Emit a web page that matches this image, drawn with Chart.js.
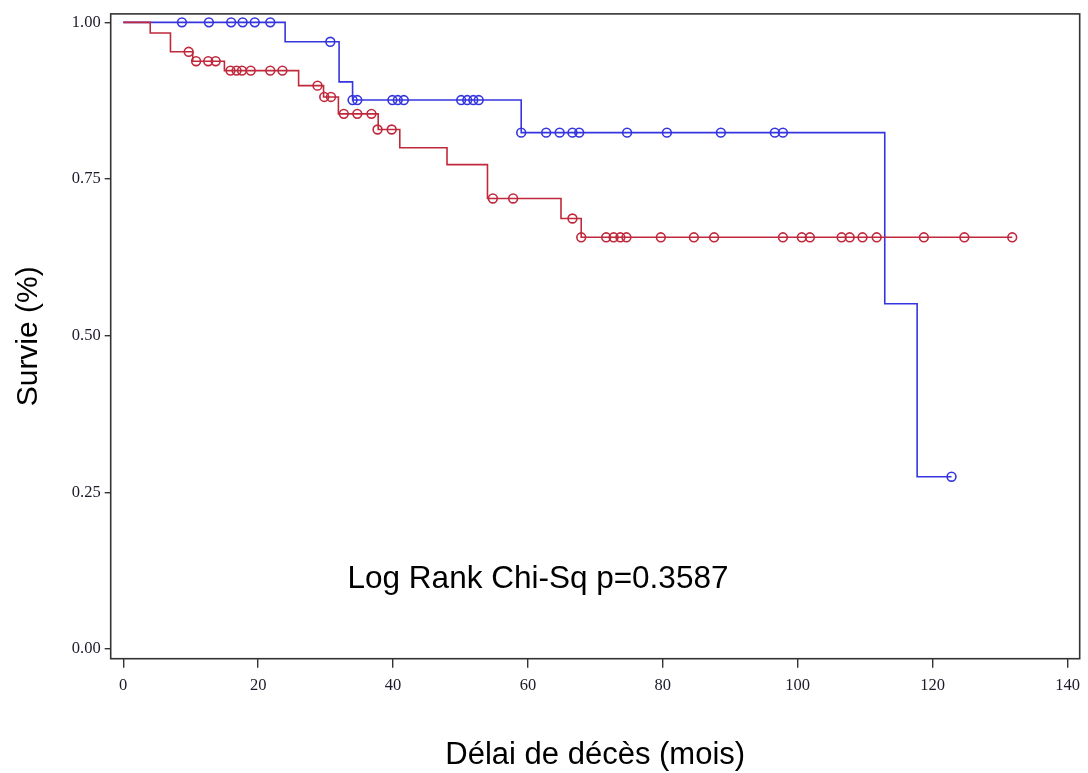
<!DOCTYPE html>
<html>
<head>
<meta charset="utf-8">
<script src="https://cdn.jsdelivr.net/npm/chart.js@4/dist/chart.umd.min.js"></script>
<style>
  html, body { margin: 0; padding: 0; background: #ffffff; }
  #wrap { width: 1088px; height: 773px; }
</style>
</head>
<body>
<div id="wrap"><canvas id="c" width="1088" height="773"></canvas></div>
<script>
// ---- Data (months, survival) ----
// Kaplan-Meier step points (time of change, survival after change); last point = end of follow-up
const redStepTimes = [0, 4, 7, 10.3, 15, 26, 29.7, 31.9, 37.8, 41, 48, 54, 64.9, 67.9, 131.8];
const redStepSurv  = [1, 0.983, 0.953, 0.938, 0.923, 0.899, 0.881, 0.854, 0.829, 0.800, 0.773, 0.719, 0.687, 0.657, 0.657];
const blueStepTimes = [0, 24, 32, 34, 59, 112.9, 117.7, 122.8];
const blueStepSurv  = [1, 0.969, 0.905, 0.876, 0.824, 0.551, 0.275, 0.275];

// Censored observations (markers)
const redCensorTimes = [9.7, 10.8, 12.6, 13.7, 15.9, 16.8, 17.6, 18.9, 21.8, 23.6, 28.8, 29.8, 30.8,
  32.7, 34.7, 36.8, 37.7, 39.8, 54.8, 57.8, 66.6, 67.9, 71.6, 72.7, 73.7, 74.6, 79.7, 84.6, 87.6,
  97.8, 100.6, 101.8, 106.5, 107.7, 109.6, 111.7, 118.7, 124.7, 131.8];
const redCensorSurv = [0.953, 0.938, 0.938, 0.938, 0.923, 0.923, 0.923, 0.923, 0.923, 0.923, 0.899, 0.881, 0.881,
  0.854, 0.854, 0.854, 0.829, 0.829, 0.719, 0.719, 0.687, 0.657, 0.657, 0.657, 0.657, 0.657, 0.657, 0.657, 0.657,
  0.657, 0.657, 0.657, 0.657, 0.657, 0.657, 0.657, 0.657, 0.657, 0.657];
const blueCensorTimes = [8.7, 12.7, 16.0, 17.7, 19.5, 21.8, 30.7, 34.0, 34.7, 39.9, 40.7, 41.6,
  50.1, 51.0, 51.9, 52.7, 59, 62.7, 64.7, 66.6, 67.6, 74.7, 80.6, 88.6, 96.6, 97.8, 122.8];
const blueCensorSurv = [1, 1, 1, 1, 1, 1, 0.969, 0.876, 0.876, 0.876, 0.876, 0.876,
  0.876, 0.876, 0.876, 0.876, 0.824, 0.824, 0.824, 0.824, 0.824, 0.824, 0.824, 0.824, 0.824, 0.824, 0.275];

const xTickValues = [0, 20, 40, 60, 80, 100, 120, 140];
const yTickValues = [0, 0.25, 0.5, 0.75, 1];
const yTickLabels = ['0.00', '0.25', '0.50', '0.75', '1.00'];

const xTitle = 'Délai de décès (mois)';
const yTitle = 'Survie (%)';
const annotationText = 'Log Rank Chi-Sq p=0.3587';

// ---- Build library structures ----
function pts(xs, ys) { return xs.map((x, i) => ({ x: x, y: ys[i] })); }

const RED = '#c0283c';
const BLUE = '#3535e0';

const framePlugin = {
  id: 'frame',
  afterDraw(chart) {
    const { ctx, chartArea: a } = chart;
    ctx.save();
    ctx.strokeStyle = '#333333';
    ctx.lineWidth = 1.6;
    ctx.strokeRect(a.left, a.top, a.right - a.left, a.bottom - a.top);
    ctx.font = '31.5px "Liberation Sans", Arial, sans-serif';
    ctx.fillStyle = '#000000';
    ctx.textAlign = 'center';
    ctx.textBaseline = 'alphabetic';
    ctx.fillText(annotationText, 538, 588);
    ctx.restore();
  }
};

new Chart(document.getElementById('c'), {
  type: 'scatter',
  data: {
    datasets: [
      { data: pts(redStepTimes, redStepSurv), showLine: true, stepped: 'before', borderColor: RED,
        borderWidth: 1.6, pointRadius: 0, fill: false },
      { data: pts(blueStepTimes, blueStepSurv), showLine: true, stepped: 'before', borderColor: BLUE,
        borderWidth: 1.6, pointRadius: 0, fill: false },
      { data: pts(redCensorTimes, redCensorSurv), showLine: false, pointStyle: 'circle', pointRadius: 4.4,
        pointBorderWidth: 1.6, pointBorderColor: RED, pointBackgroundColor: 'rgba(0,0,0,0)', clip: false },
      { data: pts(blueCensorTimes, blueCensorSurv), showLine: false, pointStyle: 'circle', pointRadius: 4.4,
        pointBorderWidth: 1.6, pointBorderColor: BLUE, pointBackgroundColor: 'rgba(0,0,0,0)', clip: false }
    ]
  },
  options: {
    responsive: false,
    animation: false,
    devicePixelRatio: 1,
    layout: { padding: { left: 0, top: 11.5, right: 2, bottom: 0 } },
    plugins: { legend: { display: false }, tooltip: { enabled: false } },
    scales: {
      x: {
        type: 'linear', min: -1.86, max: 141.8,
        afterBuildTicks(s) { s.ticks = xTickValues.map(v => ({ value: v })); },
        afterFit(s) { s.height = 114.3; },
        grid: { display: true, drawOnChartArea: false, drawTicks: true, tickLength: 9, color: '#333333', lineWidth: 1.4 },
        border: { display: false },
        ticks: { color: '#1a1a2a', font: { family: '"Liberation Serif", "Times New Roman", serif', size: 16.5 }, padding: 8, maxRotation: 0,
          callback: (v) => String(v) },
        title: { display: true, text: xTitle, color: '#000000',
          font: { family: '"Liberation Sans", Arial, sans-serif', size: 31, lineHeight: 1.1 }, padding: { top: 0, bottom: 0 } }
      },
      y: {
        type: 'linear', min: -0.0154, max: 1.0135,
        afterBuildTicks(s) { s.ticks = yTickValues.map(v => ({ value: v })); },
        afterFit(s) { s.width = 110.7; },
        grid: { display: true, drawOnChartArea: false, drawTicks: true, tickLength: 6, color: '#333333', lineWidth: 1.4 },
        border: { display: false },
        ticks: { color: '#1a1a2a', font: { family: '"Liberation Serif", "Times New Roman", serif', size: 16.5 }, padding: 4,
          callback: (v) => yTickLabels[yTickValues.indexOf(v)] },
        title: { display: true, text: yTitle, color: '#000000',
          font: { family: '"Liberation Sans", Arial, sans-serif', size: 30, lineHeight: 1.2 }, padding: { top: 11, bottom: 0 } }
      }
    }
  },
  plugins: [framePlugin]
});
</script>
</body>
</html>
